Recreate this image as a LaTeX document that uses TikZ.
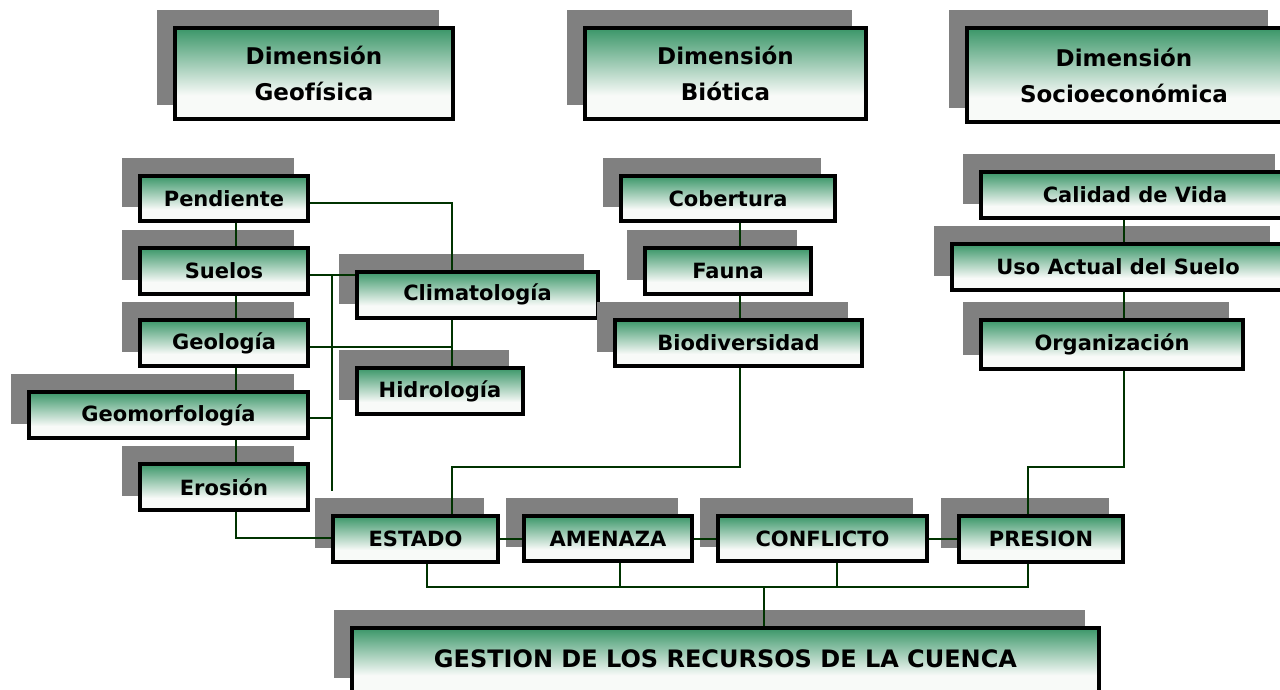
\documentclass[tikz,border=0pt]{standalone}
\usepackage{fontspec}
\setmainfont{DejaVu Sans}
\usetikzlibrary{shadows}
\definecolor{boxgreen}{RGB}{58,150,104}
\definecolor{boxbot}{RGB}{248,250,248}
\definecolor{shadowgray}{RGB}{128,128,128}
\definecolor{conngreen}{RGB}{0,51,0}
\pgfdeclareverticalshading{boxshade}{100bp}{color(0bp)=(boxbot); color(25bp)=(boxbot); color(38bp)=(boxbot); color(75bp)=(boxgreen); color(100bp)=(boxgreen)}
\begin{document}
\begin{tikzpicture}[x=1pt,y=-1pt,
  box/.style={draw=black, line width=4pt, shading=boxshade, inner sep=0pt,
    font=\fontsize{21}{25}\selectfont\bfseries,
    general shadow={fill=shadowgray, draw=shadowgray, line width=4pt, shadow xshift=-16pt, shadow yshift=16pt}},
  dim/.style={box, font=\fontsize{23}{36}\selectfont\bfseries, align=center},
  conn/.style={draw=conngreen, line width=2.2pt}]
\useasboundingbox (0,0) rectangle (1280,689);
% top dimensions
\node[dim, minimum width=278pt, minimum height=91pt] (geo) at (314,73.5) {Dimensión\\Geofísica};
\node[dim, minimum width=281pt, minimum height=91pt] (bio) at (725.5,73.5) {Dimensión\\Biótica};
\node[dim, minimum width=315pt, minimum height=94pt] (soc) at (1124,75) {Dimensión\\Socioeconómica};
% geophysical column
\node[box, minimum width=168pt, minimum height=45pt] (pend) at (224,198.5) {Pendiente};
\node[box, minimum width=168pt, minimum height=46pt] (suel) at (224,271) {Suelos};
\node[box, minimum width=168pt, minimum height=46pt] (geol) at (224,343) {Geología};
\node[box, minimum width=279pt, minimum height=46pt] (geom) at (168.5,415) {Geomorfología};
\node[box, minimum width=168pt, minimum height=46pt] (eros) at (224,487) {Erosión};
\node[box, minimum width=241pt, minimum height=46pt] (clim) at (477.5,294.5) {Climatología};
\node[box, minimum width=166pt, minimum height=46pt] (hidr) at (440,391) {Hidrología};
% biotic column
\node[box, minimum width=214pt, minimum height=45pt] (cob) at (728,198.5) {Cobertura};
\node[box, minimum width=166pt, minimum height=46pt] (fau) at (728,271) {Fauna};
\node[box, minimum width=247pt, minimum height=46pt] (biod) at (738.5,343) {Biodiversidad};
% socioeconomic column
\node[box, minimum width=308pt, minimum height=46pt] (cal) at (1135,195) {Calidad de Vida};
\node[box, minimum width=332pt, minimum height=46pt] (uso) at (1118,267) {Uso Actual del Suelo};
\node[box, minimum width=262pt, minimum height=49pt] (org) at (1112,344.5) {Organización};
% bottom row
\node[box, minimum width=165pt, minimum height=46pt] (est) at (415.5,539) {ESTADO};
\node[box, minimum width=168pt, minimum height=45pt] (ame) at (608,538.5) {AMENAZA};
\node[box, minimum width=209pt, minimum height=45pt] (con) at (822.5,538.5) {CONFLICTO};
\node[box, minimum width=164pt, minimum height=46pt] (pre) at (1041,539) {PRESION};
\node[box, minimum width=747pt, minimum height=64pt, font=\fontsize{24}{28}\selectfont\bfseries] (ges) at (725.5,660) {\raisebox{3pt}{GESTION DE LOS RECURSOS DE LA CUENCA}};
% connectors
\coordinate (free) at (332,491);
\draw[conn] (pend.east |- 0,203) -- (452,203) -- (452,0 |- clim.north);
\draw[conn] (pend.south -| 236,0) -- (suel.north -| 236,0);
\draw[conn] (suel.south -| 236,0) -- (geol.north -| 236,0);
\draw[conn] (geol.south -| 236,0) -- (geom.north -| 236,0);
\draw[conn] (geom.south -| 236,0) -- (eros.north -| 236,0);
\draw[conn] (suel.east |- 0,275) -- (clim.west |- 0,275);
\draw[conn] (332,275) -- (free);
\draw[conn] (geol.east |- 0,347) -- (452,347);
\draw[conn] (clim.south -| 452,0) -- (hidr.north -| 452,0);
\draw[conn] (geom.east |- 0,418) -- (332,418);
\draw[conn] (eros.south -| 236,0) |- (est.west |- 0,538);
\draw[conn] (est.east |- 0,539) -- (ame.west |- 0,539);
\draw[conn] (ame.east |- 0,539) -- (con.west |- 0,539);
\draw[conn] (con.east |- 0,539) -- (pre.west |- 0,539);
\draw[conn] (cob.south -| 740,0) -- (fau.north -| 740,0);
\draw[conn] (fau.south -| 740,0) -- (biod.north -| 740,0);
\draw[conn] (biod.south -| 740,0) -- (740,467) -| (est.north -| 452,0);
\draw[conn] (cal.south -| 1124,0) -- (uso.north -| 1124,0);
\draw[conn] (uso.south -| 1124,0) -- (org.north -| 1124,0);
\draw[conn] (org.south -| 1124,0) -- (1124,467) -| (pre.north -| 1028,0);
\draw[conn] (est.south -| 427,0) -- (427,587) -- (1028,587) -- (pre.south -| 1028,0);
\draw[conn] (ame.south -| 620,0) -- (620,587);
\draw[conn] (con.south -| 837,0) -- (837,587);
\draw[conn] (764,587) -- (ges.north -| 764,0);
\end{tikzpicture}
\end{document}
